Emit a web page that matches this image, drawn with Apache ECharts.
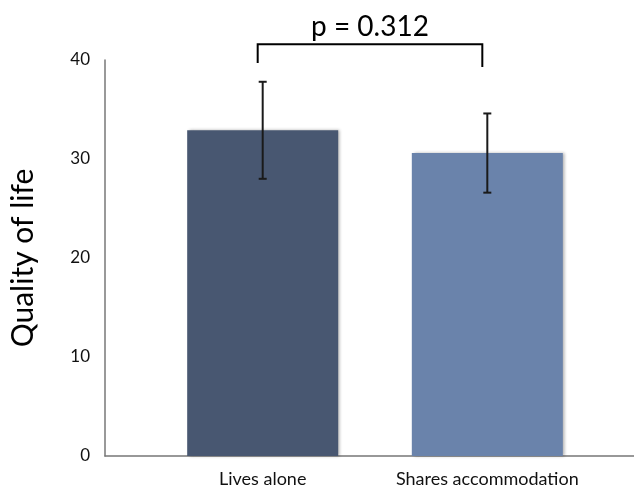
<!DOCTYPE html>
<html>
<head>
<meta charset="utf-8">
<script src="https://cdn.jsdelivr.net/npm/echarts@6/dist/echarts.min.js"></script>
<style>
  html, body { margin: 0; padding: 0; background: #ffffff; }
  #chart { width: 634px; height: 491px; }
</style>
</head>
<body>
<div id="chart"></div>
<script>
// ---- data ----
const categories = ['Lives alone', 'Shares accommodation'];
const means = [32.9, 30.6];
const errors = [4.9, 4.0];
const barColors = ['#485771', '#6a83ab'];
const yTicks = [0, 10, 20, 30, 40];
const pLabel = 'p = 0.312';
const bracketTop = 41.6;
const bracketLegEnds = [39.7, 39.3];

const FONT = 'Lato, "Open Sans", sans-serif';

const barData = means.map((v, i) => ({
  value: [i, v],
  itemStyle: { color: barColors[i] }
}));
const errData = means.map((v, i) => [i, v - errors[i], v + errors[i]]);
const bracketData = [[0, 1, bracketTop, bracketLegEnds[0], bracketLegEnds[1]]];

const chart = echarts.init(document.getElementById('chart'));
chart.setOption({
  animation: false,
  backgroundColor: '#ffffff',
  grid: { left: 103, right: 0, top: 60, bottom: 35, containLabel: false },
  xAxis: {
    type: 'value',
    min: -0.702,
    max: 1.653,
    splitLine: { show: false },
    axisLine: { show: true, onZero: false, lineStyle: { color: '#777', width: 1.5 } },
    axisTick: { show: false },
    axisLabel: {
      customValues: [0, 1],
      formatter: v => categories[Math.round(v)] || '',
      fontFamily: FONT, fontSize: 18, color: '#111', margin: 14
    }
  },
  yAxis: {
    type: 'value',
    min: yTicks[0],
    max: yTicks[yTicks.length - 1],
    interval: 10,
    splitLine: { show: false },
    axisLine: { show: true, onZero: false, lineStyle: { color: '#777', width: 1.5 } },
    axisTick: { show: false },
    axisLabel: { fontFamily: FONT, fontSize: 17, color: '#111', margin: 15 },
    name: 'Quality of life',
    nameLocation: 'middle',
    nameGap: 67,
    nameTextStyle: { fontFamily: FONT, fontSize: 30, color: '#000' }
  },
  series: [
    {
      type: 'bar',
      data: barData,
      barWidth: 151,
      itemStyle: {
        shadowColor: 'rgba(0,0,0,0.3)',
        shadowBlur: 3,
        shadowOffsetX: 2,
        shadowOffsetY: 0
      },
      z: 2
    },
    {
      type: 'custom',
      data: errData,
      z: 5,
      renderItem: function (params, api) {
        const x = api.value(0);
        const lo = api.coord([x, api.value(1)]);
        const hi = api.coord([x, api.value(2)]);
        const hw = 4;
        const style = { stroke: '#1a1a1a', lineWidth: 2 };
        return {
          type: 'group',
          children: [
            { type: 'line', shape: { x1: lo[0], y1: lo[1], x2: hi[0], y2: hi[1] }, style },
            { type: 'line', shape: { x1: hi[0] - hw, y1: hi[1], x2: hi[0] + hw, y2: hi[1] }, style },
            { type: 'line', shape: { x1: lo[0] - hw, y1: lo[1], x2: lo[0] + hw, y2: lo[1] }, style }
          ]
        };
      }
    },
    {
      type: 'custom',
      data: bracketData,
      z: 6,
      clip: false,
      renderItem: function (params, api) {
        const off = -5;
        const tl = api.coord([api.value(0), api.value(2)]);
        const tr = api.coord([api.value(1), api.value(2)]);
        const bl = api.coord([api.value(0), api.value(3)]);
        const br = api.coord([api.value(1), api.value(4)]);
        const pts = [[bl[0] + off, bl[1]], [tl[0] + off, tl[1]], [tr[0] + off, tr[1]], [br[0] + off, br[1]]];
        return {
          type: 'group',
          children: [
            { type: 'polyline', shape: { points: pts }, style: { stroke: '#000', lineWidth: 2, fill: null } },
            {
              type: 'text',
              x: (tl[0] + tr[0]) / 2 + off,
              y: tl[1] - 17,
              style: {
                text: pLabel,
                fontFamily: FONT,
                fontSize: 28,
                fill: '#000',
                align: 'center',
                verticalAlign: 'middle'
              }
            }
          ]
        };
      }
    }
  ]
});
</script>
</body>
</html>
